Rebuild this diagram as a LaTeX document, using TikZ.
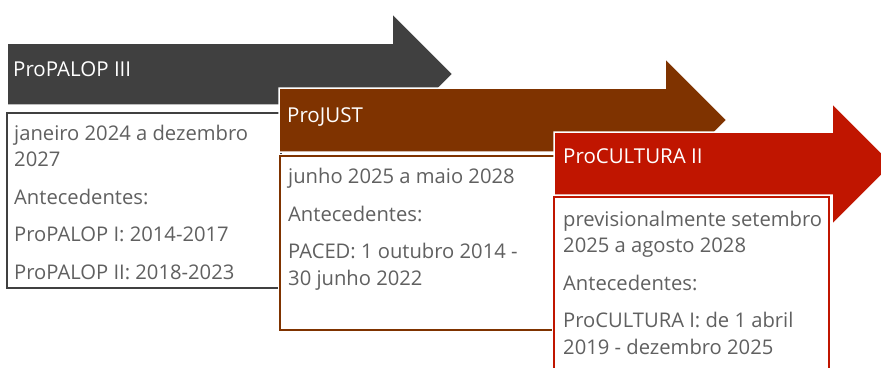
\documentclass[tikz,border=0pt]{standalone}
\usepackage{fontspec}
\setmainfont{Open Sans}
\definecolor{arrgray}{RGB}{64,64,64}
\definecolor{arrbrown}{RGB}{127,51,0}
\definecolor{arrred}{RGB}{192,21,0}
\definecolor{txtgray}{RGB}{96,96,96}
\tikzset{
  arrowshape/.style={draw=white, line width=1.5pt, line join=miter},
  infobox/.style={fill=white, line width=2pt, preaction={draw=white, line width=5pt}},
  headtext/.style={anchor=base west, text=white, inner sep=0pt, font=\fontsize{20.5}{24}\selectfont},
  bodytext/.style={anchor=base west, align=left, text=txtgray, inner sep=0pt, font=\fontsize{20.2}{26.5}\selectfont}
}
\begin{document}
\begin{tikzpicture}[x=1pt,y=-1pt]
\useasboundingbox (0,0) rectangle (881,367);
\clip (0,0) rectangle (881,367);
% arrow 1
\fill[arrgray, arrowshape] (7,43) -- (392,43) -- (392,13) -- (453,74) -- (392,135) -- (392,105) -- (7,105) -- cycle;
\node[headtext] (h1) at (13,76) {ProPALOP III};
\draw[infobox, draw=arrgray] (7,113) rectangle (281,288);
\node[bodytext] (t1) at (14,279) {janeiro 2024 a dezembro\\2027\\[11pt]Antecedentes:\\[11pt]ProPALOP I: 2014-2017\\[11pt]ProPALOP II: 2018-2023};
% arrow 2
\fill[arrbrown, arrowshape] (279,88) -- (665,88) -- (665,58) -- (727,120) -- (665,182) -- (665,152) -- (279,152) -- cycle;
\node[headtext] (h2) at (287,122) {ProJUST};
\draw[infobox, draw=arrbrown] (280,156) rectangle (556,330);
\node[bodytext] (t2) at (288,285) {junho 2025 a maio 2028\\[11pt]Antecedentes:\\[11pt]PACED: 1 outubro 2014 -\\30 junho 2022};
% arrow 3
\fill[arrred, arrowshape] (554,132) -- (832,132) -- (832,103) -- (893,164) -- (832,225) -- (832,195) -- (554,195) -- cycle;
\node[headtext] (h3) at (563,163) {ProCULTURA II};
\draw[infobox, draw=arrred] (554,197) rectangle (829,380);
\node[bodytext] (t3) at (563,354) {previsionalmente setembro\\2025 a agosto 2028\\[11pt]Antecedentes:\\[11pt]ProCULTURA I: de 1 abril\\2019 - dezembro 2025};
\end{tikzpicture}
\end{document}
